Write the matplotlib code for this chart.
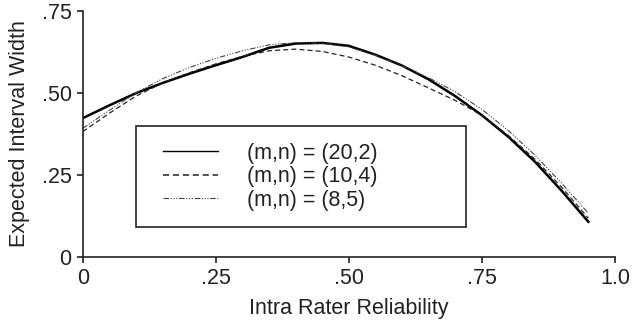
import numpy as np
import matplotlib.pyplot as plt
from matplotlib.patches import Rectangle

plt.rcParams['font.family'] = ['Liberation Sans', 'DejaVu Sans']

# Reliability grid and expected interval widths
reliability = [0.00, 0.05, 0.10, 0.15, 0.20, 0.25, 0.30, 0.35, 0.40, 0.45,
               0.50, 0.55, 0.60, 0.65, 0.70, 0.75, 0.80, 0.85, 0.90, 0.95]
width_20_2 = [0.423, 0.462, 0.499, 0.530, 0.558, 0.584, 0.609, 0.637, 0.650, 0.652,
              0.643, 0.616, 0.583, 0.541, 0.490, 0.432, 0.366, 0.290, 0.202, 0.108]
width_10_4 = [0.382, 0.438, 0.490, 0.530, 0.561, 0.588, 0.611, 0.628, 0.633, 0.626,
              0.609, 0.584, 0.552, 0.515, 0.477, 0.432, 0.370, 0.298, 0.213, 0.119]
width_8_5 = [0.392, 0.447, 0.500, 0.543, 0.577, 0.605, 0.628, 0.646, 0.653, 0.651,
             0.640, 0.614, 0.582, 0.546, 0.503, 0.450, 0.385, 0.310, 0.225, 0.134]
labels = ['(m,n) = (20,2)', '(m,n) = (10,4)', '(m,n) = (8,5)']

xticks = [0, 0.25, 0.5, 0.75, 1.0]
xticklabels = ['0', '.25', '.50', '.75', '1.0']
yticks = [0, 0.25, 0.5, 0.75]
yticklabels = ['0', '.25', '.50', '.75']

fig = plt.figure(figsize=(6.41, 3.28), dpi=100)
ax = fig.add_axes([0.129, 0.2155, 0.8304, 0.752])

ax.plot(reliability, width_20_2, color='black', lw=1.8, label=labels[0])
ax.plot(reliability, width_10_4, color='#222222', lw=0.9, dashes=(4, 2.5), label=labels[1])
ax.plot(reliability, width_8_5, color='#444444', lw=0.8,
        dashes=(5, 1.5, 1, 1.5, 1, 1.5, 1, 1.5), label=labels[2])

ax.set_xlim(0, 1.0)
ax.set_ylim(0, 0.75)
ax.set_xticks(xticks)
ax.set_xticklabels(xticklabels)
ax.set_yticks(yticks)
ax.set_yticklabels(yticklabels)
for s in ['top', 'right']:
    ax.spines[s].set_visible(False)
for s in ['left', 'bottom']:
    ax.spines[s].set_linewidth(1.2)
    ax.spines[s].set_color('#222222')
ax.tick_params(labelsize=15.5, length=4, width=1.2, pad=4, colors='#222222')

ax.set_xlabel('Intra Rater Reliability', fontsize=15.5, labelpad=6, color='#222222')
ax.set_ylabel('Expected Interval Width', fontsize=15.5, labelpad=8, color='#222222')

# legend box drawn separately so the inner padding can be placed freely
ax.add_patch(Rectangle((0.100, 0.124), 0.621, 0.41, transform=ax.transAxes,
                       fill=True, facecolor='white', edgecolor='#222222',
                       lw=1.2, zorder=3))
leg = ax.legend(loc='upper left', bbox_to_anchor=(0.151, 0.465),
                borderaxespad=0, borderpad=0, fontsize=15.5, frameon=False,
                handlelength=2.55, handletextpad=1.35, labelspacing=0.12)
leg.set_zorder(4)
leg.get_lines()[0].set_linewidth(1.0)
leg.get_lines()[1].set_linewidth(1.1)
for t in leg.get_texts():
    t.set_color('#222222')

fig.savefig('out.png', dpi=100)
